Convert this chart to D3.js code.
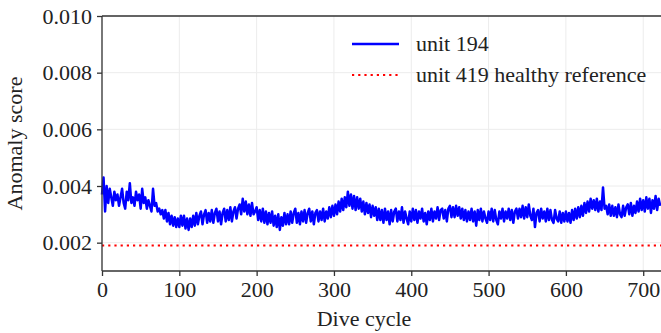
<!DOCTYPE html>
<html>
<head>
<meta charset="utf-8">
<script src="https://cdn.jsdelivr.net/npm/d3@7"></script>
<style>
  body { margin: 0; background: #fff; }
  text { font-family: "Liberation Serif", "Times New Roman", serif; fill: #222; }
  .axis path, .axis line { stroke: #333; stroke-width: 1.3; }
  .axis text { font-size: 22px; }
</style>
</head>
<body>
<div id="chart"></div>
<script>
// anomaly score of unit 194, one value every 2 dive cycles (units of 1e-4)
var cycleStep = 2;
var unit194E4 = [
  37, 43, 31, 40, 34, 39, 36, 33, 38, 35,
  37, 33, 36, 39, 34, 32, 38, 35, 41, 34,
  36, 33, 38, 35, 37, 32, 39, 34, 36, 32,
  35, 33, 31, 39, 33, 34, 31, 32, 30, 31.5,
  28.5, 31.5, 27.5, 30.5, 26.5, 29.5, 26, 29, 25.5, 28.5,
  25.5, 29.5, 26, 29.5, 25, 28.5, 24.5, 28.5, 25.5, 29.5,
  26, 30.5, 26.5, 29.5, 31, 26.5, 30, 31.5, 27, 30.5,
  27.5, 31.5, 27, 30.5, 32, 27.5, 31, 26.5, 30.5, 32,
  27.5, 31.5, 28, 32.5, 27.5, 31, 32.5, 28.5, 32, 33.5,
  30, 35.5, 31, 34.5, 30, 33.5, 29.5, 34, 30, 31,
  32.5, 28, 31.5, 27.5, 32, 27, 31, 26.5, 30.5, 27,
  31, 26, 29.5, 25.5, 30, 24.5, 29, 26, 30.5, 26.5,
  30, 26.5, 31, 27, 30.5, 32, 27, 30.5, 26.5, 31,
  27.5, 31.5, 27, 30.5, 32, 27.5, 31, 26.5, 30.5, 31.5,
  27.5, 31, 28, 32, 27.5, 31, 28.5, 32.5, 29, 33,
  29.5, 33.5, 30, 34.5, 31, 35.5, 31.5, 36, 32.5, 38,
  33, 37, 32, 36.5, 31.5, 36, 32, 35.5, 31, 34.5,
  30, 34, 30.5, 33.5, 29, 33, 29.5, 32.5, 28, 32,
  28, 31.5, 27, 32, 28, 31, 26.5, 31.5, 27.5, 31,
  32, 27.5, 31, 28, 32.5, 27, 31, 28.5, 26.5, 31,
  27.5, 32, 28, 31.5, 27, 31, 28.5, 32, 27.5, 30.5,
  26.5, 31, 28, 32, 27.5, 31, 28.5, 32.5, 28, 31.5,
  32, 28.5, 31.5, 27.5, 32, 33, 29, 32.5, 29, 33,
  29.5, 32.5, 28.5, 32, 28, 31.5, 27.5, 31, 28, 32,
  27.5, 31, 26, 31.5, 28, 32, 27.5, 31, 28.5, 27,
  31, 28, 32, 27.5, 31.5, 28, 26.5, 31, 28.5, 32,
  27.5, 31, 28.5, 32, 28, 31.5, 27, 31, 32, 28.5,
  32, 29, 33, 28.5, 32.5, 29, 33.5, 29.5, 28, 32,
  25.5, 30.5, 31.5, 27.5, 32, 28.5, 31, 27.5, 32, 28,
  31.5, 28, 27, 31.5, 28.5, 27.5, 31, 27, 30.5, 27.5,
  31, 27.5, 30.5, 27, 31.5, 28, 32, 28.5, 32.5, 29,
  33, 29.5, 34, 30.5, 34.5, 31, 35.5, 32, 35, 31.5,
  35.5, 31, 34.5, 31.5, 39.5, 32, 33, 30, 33.5, 29.5,
  33, 29.5, 32.5, 29, 33.5, 30, 29, 33, 29.5, 32.5,
  33.5, 30, 34, 29.5, 33, 30.5, 34.5, 31, 35.5, 31.5,
  35, 31, 36, 32, 35.5, 30.5, 35, 32, 36.5, 31.5,
  35.5, 33
];
var healthyRef = 0.0019;

var xTicks = [0, 100, 200, 300, 400, 500, 600, 700];
var yTicks = [0.002, 0.004, 0.006, 0.008, 0.010];
var seriesNames = ["unit 194", "unit 419 healthy reference"];

var unit194 = unit194E4.map(function(v, i) {
  return { cycle: i * cycleStep, score: v / 1e4 };
});

var margin = { top: 16, left: 102, right: 0, bottom: 62 },
  width = 661 - margin.left - margin.right,
  height = 333 - margin.top - margin.bottom;

var svg = d3.select("#chart")
  .append("svg")
  .attr("width", 661)
  .attr("height", 333)
  .append("g")
  .attr("transform", "translate(" + margin.left + "," + margin.top + ")");

var xPositionScale = d3.scaleLinear()
  .domain([0, 723])
  .range([0, width]);

var yPositionScale = d3.scaleLinear()
  .domain([0.001, 0.010])
  .range([height, 0]);

// grid
svg.append("g")
  .selectAll("line")
  .data(xTicks)
  .enter().append("line")
  .attr("x1", function(d) { return xPositionScale(d); })
  .attr("x2", function(d) { return xPositionScale(d); })
  .attr("y1", 0)
  .attr("y2", height)
  .attr("stroke", "#ececec")
  .attr("stroke-width", 1);

svg.append("g")
  .selectAll("line")
  .data(yTicks)
  .enter().append("line")
  .attr("x1", 0)
  .attr("x2", width)
  .attr("y1", function(d) { return yPositionScale(d); })
  .attr("y2", function(d) { return yPositionScale(d); })
  .attr("stroke", "#ececec")
  .attr("stroke-width", 1);

// healthy reference
svg.append("line")
  .attr("x1", xPositionScale(0))
  .attr("x2", width)
  .attr("y1", yPositionScale(healthyRef))
  .attr("y2", yPositionScale(healthyRef))
  .attr("stroke", "#ff0000")
  .attr("stroke-width", 2.2)
  .attr("stroke-dasharray", "2.2,4");

var line = d3.line()
  .x(function(d) { return xPositionScale(d.cycle); })
  .y(function(d) { return yPositionScale(d.score); });

svg.append("path")
  .datum(unit194)
  .attr("d", line)
  .attr("fill", "none")
  .attr("stroke", "#0000ff")
  .attr("stroke-width", 2.5)
  .attr("stroke-linejoin", "round");

// axes
var xAxis = d3.axisBottom(xPositionScale).tickValues(xTicks).tickSize(5).tickPadding(5);
svg.append("g")
  .attr("class", "axis x-axis")
  .attr("transform", "translate(0," + height + ")")
  .call(xAxis);

var yAxis = d3.axisLeft(yPositionScale).tickValues(yTicks).tickSize(5).tickPadding(5)
  .tickFormat(d3.format(".3f"));
svg.append("g")
  .attr("class", "axis y-axis")
  .call(yAxis);

svg.selectAll(".axis .domain").remove();

svg.append("line")
  .attr("x1", 0).attr("x2", 0)
  .attr("y1", 0).attr("y2", height)
  .attr("stroke", "#333").attr("stroke-width", 1.3);
svg.append("line")
  .attr("x1", 0).attr("x2", width)
  .attr("y1", height).attr("y2", height)
  .attr("stroke", "#333").attr("stroke-width", 1.3);
svg.append("line")
  .attr("x1", 0).attr("x2", width)
  .attr("y1", 0).attr("y2", 0)
  .attr("stroke", "#333").attr("stroke-width", 1.3);

svg.append("text")
  .text("Dive cycle")
  .attr("x", 262)
  .attr("y", height + 55)
  .attr("text-anchor", "middle")
  .attr("font-size", 22);

svg.append("text")
  .text("Anomaly score")
  .attr("transform", "translate(" + (-80) + "," + (height / 2) + ") rotate(-90)")
  .attr("text-anchor", "middle")
  .attr("font-size", 22);

// legend
var legend = svg.append("g")
  .attr("transform", "translate(250,28)");

legend.append("line")
  .attr("x1", 0).attr("x2", 47)
  .attr("y1", 0).attr("y2", 0)
  .attr("stroke", "#0000ff")
  .attr("stroke-width", 2.5);

legend.append("line")
  .attr("x1", 0).attr("x2", 47)
  .attr("y1", 31).attr("y2", 31)
  .attr("stroke", "#ff0000")
  .attr("stroke-width", 2.2)
  .attr("stroke-dasharray", "2.2,4");

legend.selectAll("text")
  .data(seriesNames)
  .enter().append("text")
  .text(function(d) { return d; })
  .attr("x", 64)
  .attr("y", function(d, i) { return i * 31 + 7; })
  .attr("font-size", 22);
</script>
</body>
</html>
